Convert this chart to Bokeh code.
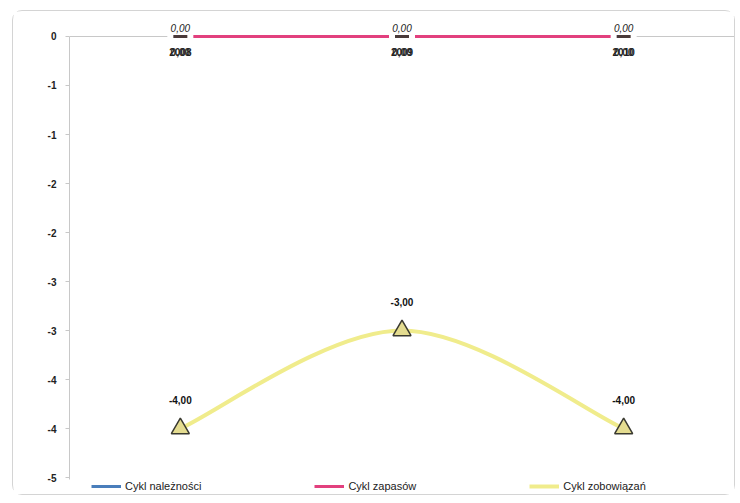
from bokeh.plotting import figure
from bokeh.models import (ColumnDataSource, FixedTicker, Range1d, LabelSet,
                          Legend, LegendItem)
from bokeh.core.properties import value
from bokeh.embed import file_html
from bokeh.resources import INLINE

# ---- data ----
years = ["2008", "2009", "2010"]
naleznosci = [0.0, 0.0, 0.0]
zapasy = [0.0, 0.0, 0.0]
zobowiazania = [-4.0, -3.0, -4.0]
series_names = ["Cykl należności", "Cykl zapasów", "Cykl zobowiązań"]
y_ticks = [0, -0.5, -1, -1.5, -2, -2.5, -3, -3.5, -4, -4.5]
y_tick_labels = ["0", "-1", "-1", "-2", "-2", "-3", "-3", "-4", "-4", "-5"]

FONT = "Liberation Sans"


def fmt(v):
    return f"{v:.2f}".replace(".", ",")


xs = [i + 0.5 for i in range(len(years))]

p = figure(width=723, height=485,
           x_range=Range1d(0, len(years)), y_range=Range1d(-4.673, 0.204),
           output_backend="svg", toolbar_location=None,
           x_axis_location=None,
           min_border_left=56, min_border_right=2,
           min_border_top=5, min_border_bottom=2,
           margin=(10, 5, 8, 12))
p.styles = {"border": "1px solid #d4d4d4", "border-radius": "10px"}
p.outline_line_color = None
p.background_fill_color = "white"

# y axis
ax = p.yaxis[0]
ax.ticker = FixedTicker(ticks=y_ticks)
ax.major_label_overrides = {t: l for t, l in zip(y_ticks, y_tick_labels)}
ax.bounds = (min(y_ticks) - 0.02, max(y_ticks))
ax.axis_line_color = "#c8c8c8"
ax.major_tick_line_color = "#c8c8c8"
ax.major_tick_out = 4
ax.major_tick_in = 0
ax.minor_tick_line_color = None
ax.major_label_standoff = 9
ax.major_label_text_font = FONT
ax.major_label_text_font_size = "10px"
ax.major_label_text_font_style = "bold"
ax.major_label_text_color = "#222222"

p.xgrid.visible = False
p.ygrid.ticker = FixedTicker(ticks=[0])
p.ygrid.grid_line_color = "#c8c8c8"

# series: Cykl należności
blue_line = p.line(xs, naleznosci, line_color="#4a7ebb", line_width=3)
blue_mark = p.scatter(xs, naleznosci, marker="dash", size=14,
                      line_color="#4a7ebb", line_width=3)

# series: Cykl zapasów
pink_line = p.line(xs, zapasy, line_color="#e2407e", line_width=3)
pink_mark = p.scatter(xs, zapasy, marker="dash", size=14,
                      line_color="#e2407e", line_width=3)

# white label boxes around the zero-series points (mask the line there)
p.rect(x=xs, y=zapasy, width=26, height=12, width_units="screen",
       height_units="screen", fill_color="white", line_color=None)

# series: Cykl zobowiązań (smoothed)
pts = list(zip(xs, zobowiazania))
n = len(pts)
bz = dict(x0=[], y0=[], x1=[], y1=[], cx0=[], cy0=[], cx1=[], cy1=[])
for i in range(n - 1):
    p0, p1 = pts[i], pts[i + 1]
    prev, nxt = pts[max(i - 1, 0)], pts[min(i + 2, n - 1)]
    bz["x0"].append(p0[0]); bz["y0"].append(p0[1])
    bz["x1"].append(p1[0]); bz["y1"].append(p1[1])
    bz["cx0"].append(p0[0] + (p1[0] - prev[0]) / 6)
    bz["cy0"].append(p0[1] + (p1[1] - prev[1]) / 6)
    bz["cx1"].append(p1[0] - (nxt[0] - p0[0]) / 6)
    bz["cy1"].append(p1[1] - (nxt[1] - p0[1]) / 6)
yellow_curve = p.bezier(x0="x0", y0="y0", x1="x1", y1="y1", cx0="cx0",
                        cy0="cy0", cx1="cx1", cy1="cy1",
                        source=ColumnDataSource(bz),
                        line_color="#f0ec8c", line_width=4)
yellow_mark = p.scatter(xs, zobowiazania, marker="triangle", size=18,
                        fill_color="#e4dc90", line_color="#3a3a30",
                        line_width=1.5)

# data labels
src_y = ColumnDataSource(dict(x=xs, y=zobowiazania,
                              t=[fmt(v) for v in zobowiazania]))
p.add_layout(LabelSet(x="x", y="y", text="t", source=src_y, y_offset=29,
                      text_align="center", text_baseline="middle",
                      text_font=value(FONT), text_font_size="10px",
                      text_font_style="bold", text_color="#111111"))

src_p = ColumnDataSource(dict(x=xs, y=zapasy, t=[fmt(v) for v in zapasy]))
p.add_layout(LabelSet(x="x", y="y", text="t", source=src_p, y_offset=8,
                      text_align="center", text_baseline="middle",
                      text_font=value(FONT), text_font_size="10px",
                      text_font_style="italic", text_color="#222222"))

src_b = ColumnDataSource(dict(x=xs, y=naleznosci,
                              t=[fmt(v) for v in naleznosci]))
p.add_layout(LabelSet(x="x", y="y", text="t", source=src_b, y_offset=-16,
                      text_align="center", text_baseline="middle",
                      text_font=value(FONT), text_font_size="10px",
                      text_font_style="bold", text_color="#333333"))

# category labels (axis crosses at 0)
src_c = ColumnDataSource(dict(x=xs, y=[0] * len(xs), t=years))
p.add_layout(LabelSet(x="x", y="y", text="t", source=src_c, y_offset=-16,
                      text_align="center", text_baseline="middle",
                      text_font=value(FONT), text_font_size="10px",
                      text_font_style="bold", text_color="#222222"))

# markers of zero series drawn on top
p.scatter(xs, zapasy, marker="dash", size=14, line_color="#4a3a3a",
          line_width=3)

legend = Legend(items=[
    LegendItem(label=series_names[0], renderers=[blue_line, blue_mark]),
    LegendItem(label=series_names[1], renderers=[pink_line, pink_mark]),
    LegendItem(label=series_names[2], renderers=[yellow_curve]),
], orientation="horizontal", location=(22, 2), spacing=113,
    glyph_width=30, glyph_height=10, label_standoff=4,
    label_text_font=FONT, label_text_font_size="11px",
    label_text_color="#222222", border_line_color=None,
    background_fill_alpha=0, padding=2, margin=0)
p.add_layout(legend)

open("out.html", "w").write(file_html(p, INLINE))
